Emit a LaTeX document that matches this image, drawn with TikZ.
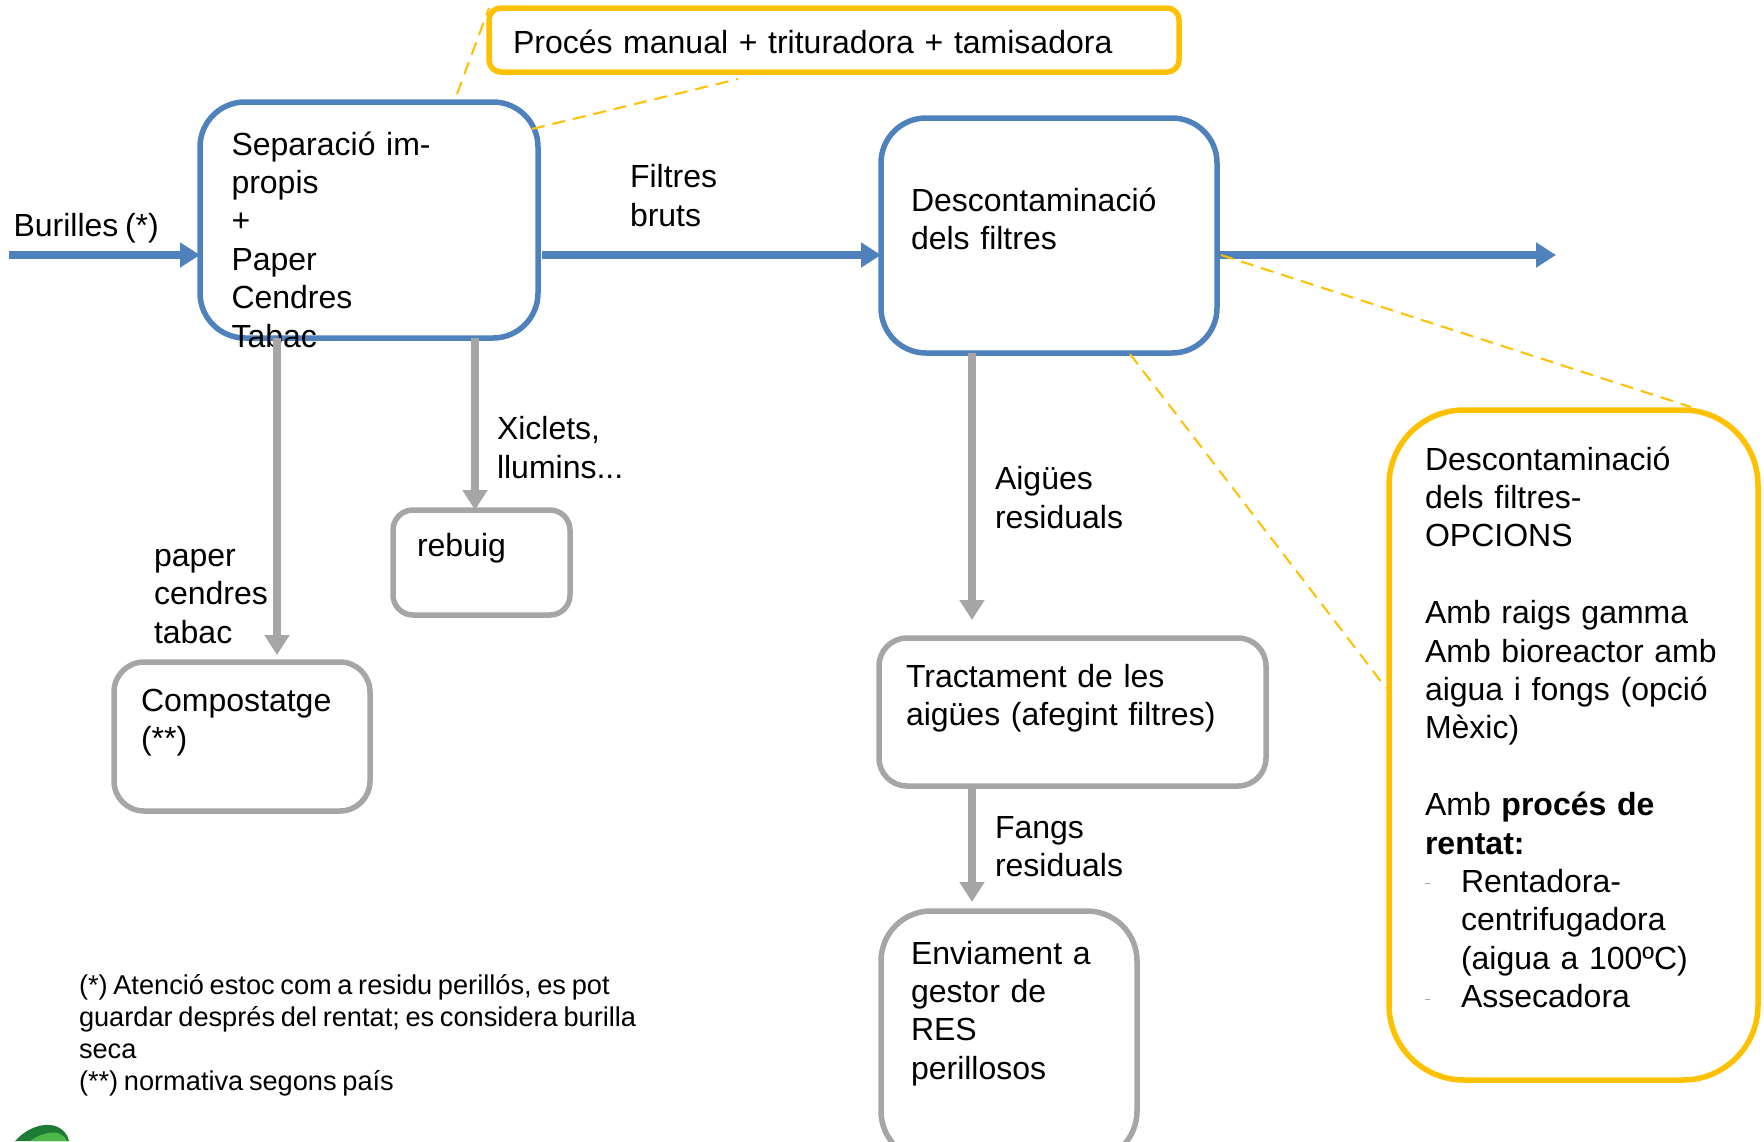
\documentclass[tikz,border=0pt]{standalone}
\usepackage{fontspec}
\setmainfont[WordSpace=0.75]{Liberation Sans}
\usetikzlibrary{arrows.meta, positioning}
\definecolor{blueline}{HTML}{4F81BD}
\definecolor{greyline}{HTML}{A6A6A6}
\definecolor{yellowline}{HTML}{FFC000}
\definecolor{logodark}{HTML}{1E7B34}
\definecolor{logolight}{HTML}{4DB848}
\newcommand{\dashmark}{\makebox[36pt][l]{\textcolor{greyline}{\rule[8pt]{5pt}{1pt}}}}

\begin{document}
\begin{tikzpicture}[x=1pt, y=-1pt,
    sized/.style n args={4}{text width=#1pt, inner xsep=#2pt, inner ysep=0pt, text height=#3pt, text depth=#4pt}]
    \tikzstyle{txt}=[font=\fontsize{32}{38.4}\selectfont, align=left, outer sep=0pt]
    \tikzstyle{lbl}=[txt, anchor=north west, inner sep=0pt]
    \tikzstyle{note}=[lbl, font=\fontsize{27.2}{32}\selectfont]
    \tikzstyle{bl}=[txt, draw=blueline, line width=5.5pt, anchor=north west, rounded corners=45pt]
    \tikzstyle{gr}=[txt, draw=greyline, line width=5.5pt, anchor=north west]
    \tikzstyle{yl}=[txt, draw=yellowline, line width=5.5pt, anchor=north west]
    \tikzstyle{bluearrow}=[blueline, line width=8pt, -{Triangle[length=20pt, width=24pt]}]
    \tikzstyle{greyarrow}=[greyline, line width=8pt, -{Triangle[length=20pt, width=24pt]}]
    \tikzstyle{dashline}=[yellowline, line width=2pt, dash pattern=on 13pt off 8pt]

    \path[use as bounding box, clip] (0,0) rectangle (1764,1141);

    % main boxes
    \node[bl, sized={275}{31.5}{53}{183}] (sep) at (200,102) {Separació impropis\\+\\Paper\\Cendres\\Tabac};
    \node[bl, sized={276}{30}{93}{142}] (filt) at (881,118) {Descontaminació\\dels filtres};
    \node[yl, rounded corners=12pt, sized={642}{24}{45}{19}] (proc) at (489,8) {Procés manual + trituradora + tamisadora};
    \node[yl, rounded corners=75pt, sized={297}{36}{60}{610}] (opc) at (1389,410) {Descontaminació\\dels filtres-\\OPCIONS\\[38.4pt]Amb raigs gamma\\Amb bioreactor amb\\aigua i fongs (opció\\Mèxic)\\[38.4pt]Amb \textbf{procés de}\\\textbf{rentat:}\\\dashmark Rentadora-\\\hspace*{36pt}centrifugadora\\\hspace*{36pt}(aigua a 100ºC)\\\dashmark Assecadora};
    \node[gr, rounded corners=20pt, sized={129}{24}{46}{59}] (reb) at (393,510) {rebuig};
    \node[gr, rounded corners=30pt, sized={202}{27}{49}{100}] (comp) at (114,662) {Compostatge\\(**)};
    \node[gr, rounded corners=28pt, sized={333}{27}{49}{99}] (tract) at (879,638) {Tractament de les\\aigües (afegint filtres)};
    \node[gr, rounded corners=50pt, sized={196}{30}{53}{197}] (env) at (881,911) {Enviament a\\gestor de\\RES\\perillosos};

    % labels
    \node[lbl] (bur) at (13.5,213) {Burilles (*)};
    \node[lbl] (bruts) at (630,164.5) {Filtres\\bruts};
    \node[lbl] (xic) at (497,416.5) {Xiclets,\\llumins...};
    \node[lbl] (pap) at (154,549) {paper\\cendres\\tabac};
    \node[lbl] (aig) at (995,466.5) {Aigües\\residuals};
    \node[lbl] (fan) at (995,816.5) {Fangs\\residuals};
    \node[note] (nota) at (79,974.5) {(*) Atenció estoc com a residu perillós, es pot\\guardar després del rentat; es considera burilla\\seca\\(**) normativa segons país};

    \coordinate (in) at (9,255);
    \coordinate (out) at (1556,255);
    \coordinate (d1) at (457,94);
    \coordinate (d2) at (532,129);
    \coordinate (d3) at (738,79);
    \coordinate (d4) at (1221,255);
    \coordinate (d5) at (1691,407);
    \coordinate (d6) at (1130,354);
    \coordinate (d7) at (1386,688);

    \draw[bluearrow] (in) -- (in -| sep.west);
    \draw[bluearrow, shorten <=4pt] (in -| sep.east) -- (in -| filt.west);
    \draw[bluearrow] (in -| filt.east) -- (out);

    \draw[greyarrow, shorten >=7pt] ([xshift=35pt]comp.north |- sep.south) -- ([xshift=35pt]comp.north);
    \draw[greyarrow] ([xshift=-6.5pt]reb.north |- sep.south) -- ([xshift=-6.5pt]reb.north);
    \draw[greyarrow, shorten >=18pt] ([xshift=-100.5pt]tract.north |- filt.south) -- ([xshift=-100.5pt]tract.north);
    \draw[greyarrow, shorten >=9pt] ([xshift=-37pt]env.north |- tract.south) -- ([xshift=-37pt]env.north);

    \draw[dashline] (d1) -- (proc.north west);
    \draw[dashline] (d2) -- (d3);
    \draw[dashline] (d4) -- (d5);
    \draw[dashline] (d6) -- (d7);

    % logo
    \fill[logodark] (15,1141) .. controls (25,1130) and (38,1124) .. (50,1125) .. controls (60,1126) and (67,1132) .. (69,1141) -- cycle;
    \fill[logolight] (30,1141) .. controls (38,1135) and (50,1131) .. (58,1133) .. controls (63,1135) and (66,1138) .. (67,1141) -- cycle;
\end{tikzpicture}
\end{document}
